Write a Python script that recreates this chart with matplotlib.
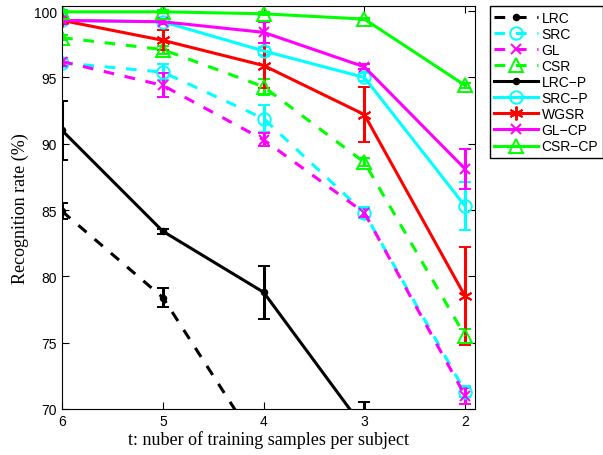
import matplotlib
matplotlib.use('Agg')
import matplotlib.pyplot as plt

# training samples per subject
t = [6, 5, 4, 3, 2]

lrc = [84.9, 78.4, 66.6, 58.0, 50.0]
lrc_err = [0.6, 0.7, 0.8, 0.8, 0.8]
src = [96.1, 95.4, 91.9, 84.8, 71.3]
src_err = [0.3, 0.6, 1.0, 0.4, 0.4]
gl = [96.2, 94.4, 90.3, 84.8, 71.0]
gl_err = [0.3, 0.9, 0.5, 0.3, 0.6]
csr = [98.0, 97.1, 94.3, 88.6, 75.5]
csr_err = [0.2, 0.3, 0.6, 0.3, 0.5]
lrc_p = [91.0, 83.4, 78.8, 68.5, 60.0]
lrc_p_err = [2.2, 0.2, 2.0, 2.0, 2.0]
src_p = [99.3, 99.2, 97.0, 95.0, 85.3]
src_p_err = [0.2, 0.2, 0.3, 0.3, 1.8]
wgsr = [99.3, 97.8, 95.9, 92.2, 78.5]
wgsr_err = [0.3, 0.75, 1.7, 2.1, 3.7]
gl_cp = [99.3, 99.2, 98.4, 95.8, 88.1]
gl_cp_err = [0.2, 0.2, 0.8, 0.2, 1.5]
csr_cp = [99.95, 99.95, 99.8, 99.4, 94.4]
csr_cp_err = [0.1, 0.1, 0.1, 0.1, 0.2]

labels = ['LRC', 'SRC', 'GL', 'CSR', 'LRC\u2212P', 'SRC\u2212P', 'WGSR', 'GL\u2212CP', 'CSR\u2212CP']

asterisk = (6, 2, 0)
series = [
    (lrc, lrc_err, 'k', '--', '.', 8),
    (src, src_err, '#00ffff', '--', 'o', 9),
    (gl, gl_err, '#ff00ff', '--', 'x', 7),
    (csr, csr_err, '#00ff00', '--', '^', 10),
    (lrc_p, lrc_p_err, 'k', '-', '.', 8),
    (src_p, src_p_err, '#00ffff', '-', 'o', 9),
    (wgsr, wgsr_err, 'r', '-', asterisk, 10),
    (gl_cp, gl_cp_err, '#ff00ff', '-', 'x', 7),
    (csr_cp, csr_cp_err, '#00ff00', '-', '^', 10),
]

fig = plt.figure(figsize=(6.03, 4.56), dpi=100)
ax = fig.add_axes([0.103, 0.101, 0.685, 0.884])

handles = []
for (vals, err, col, ls, mk, ms), lab in zip(series, labels):
    open_mk = mk in ('o', '^')
    c = ax.errorbar(t, vals, yerr=err, color=col, linestyle=ls, linewidth=2.2,
                    marker=mk, markersize=ms, markerfacecolor='none' if open_mk else col,
                    markeredgecolor=col, markeredgewidth=1.4,
                    elinewidth=2.2, capsize=4, capthick=2.2, label=lab,
                    dashes=(3.5, 3.5) if ls == '--' else (None, None))
    handles.append(c[0])

ax.set_xlim(6, 1.9)
ax.set_ylim(70, 100.4)
ax.set_xticks(t)
ax.set_yticks([70, 75, 80, 85, 90, 95, 100])
ax.tick_params(direction='in', top=True, right=True, labelsize=10, length=5)
for lab in ax.get_xticklabels() + ax.get_yticklabels():
    lab.set_fontfamily('Liberation Sans')

ax.set_xlabel('t: nuber of training samples per subject', fontfamily='Liberation Serif', fontsize=13, labelpad=2)
ax.set_ylabel('Recognition rate (%)', fontfamily='Liberation Serif', fontsize=13, labelpad=4)

leg = ax.legend(handles, labels, loc='upper left', bbox_to_anchor=(1.035, 1.0), fancybox=False, edgecolor='k',
                prop={'family': 'Liberation Sans', 'size': 10}, handlelength=3.1,
                borderpad=0.35, labelspacing=0.15, handletextpad=0.3, framealpha=1,
                borderaxespad=0)
leg.get_frame().set_linewidth(1.0)

fig.savefig('out.png', dpi=100)
plt.close(fig)
